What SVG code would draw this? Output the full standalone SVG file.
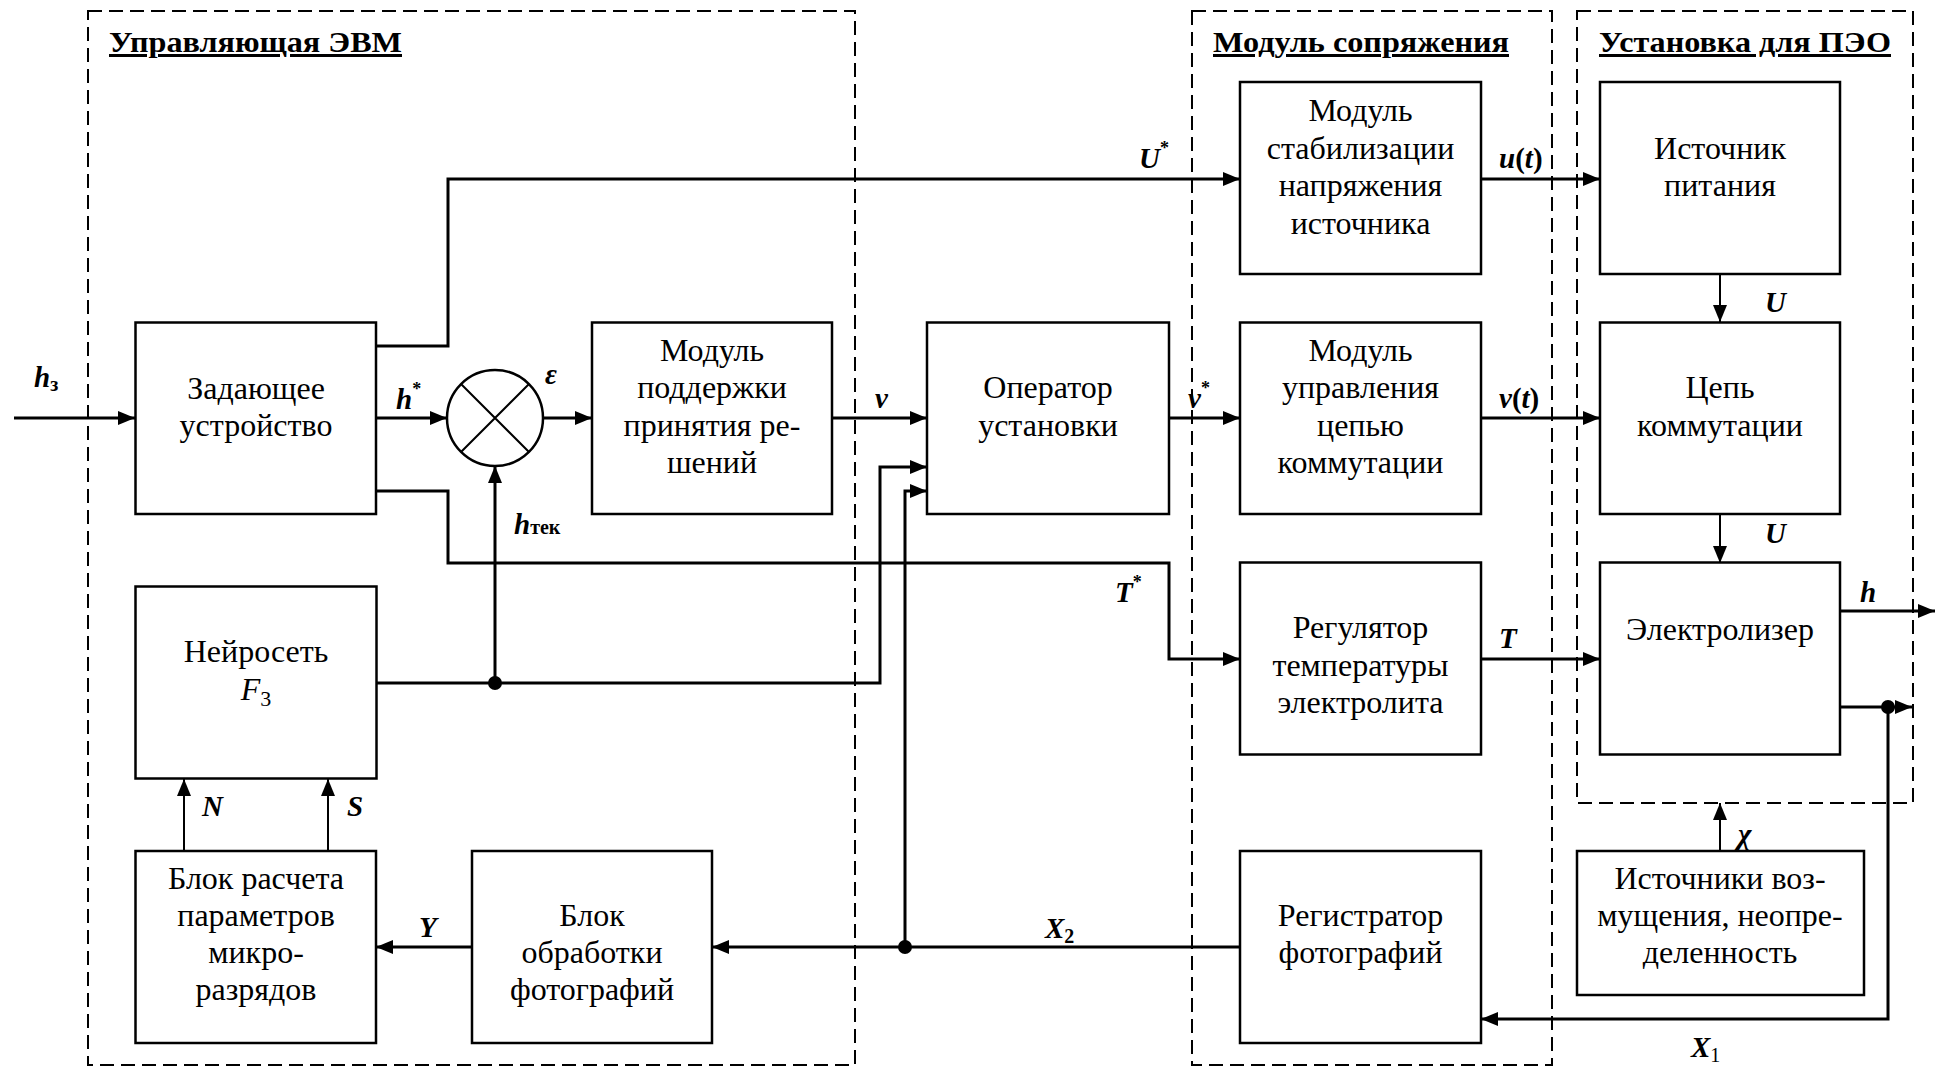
<svg xmlns="http://www.w3.org/2000/svg" width="1935" height="1068" viewBox="0 0 1935 1068">
<style>
.grp{fill:none;stroke:#000;stroke-width:2;stroke-dasharray:14 7}
.box{fill:#fff;stroke:#000;stroke-width:2.5}
.w{fill:none;stroke:#000;stroke-width:3}
.tw{fill:none;stroke:#000;stroke-width:2}
.t{font-family:"Liberation Serif","Times New Roman",serif;font-size:32px;text-anchor:middle;fill:#000}
.l{font-family:"Liberation Serif","Times New Roman",serif;font-size:29px;font-weight:bold;font-style:italic;fill:#000}
.ttl{font-family:"Liberation Serif","Times New Roman",serif;font-size:30px;font-weight:bold;text-decoration:underline;fill:#000}
.sub{font-style:normal;font-size:20px}
.dot{fill:#000}
</style>
<defs>
<marker id="a" markerUnits="userSpaceOnUse" markerWidth="18" markerHeight="14" refX="17" refY="7" orient="auto">
<path d="M0,0 L17,7 L0,14 z" fill="#000"/>
</marker>
</defs>
<rect width="1935" height="1068" fill="#fff"/>

<g id="group-evm">
<rect class="grp" x="88" y="11" width="767" height="1054"/>
<text class="ttl" x="109" y="52" textLength="293" lengthAdjust="spacingAndGlyphs">Управляющая ЭВМ</text>
</g>
<g id="group-interface">
<rect class="grp" x="1192" y="11" width="360" height="1054"/>
<text class="ttl" x="1213" y="52" textLength="296" lengthAdjust="spacingAndGlyphs">Модуль сопряжения</text>
</g>
<g id="group-peo">
<rect class="grp" x="1577" y="11" width="336" height="792"/>
<text class="ttl" x="1599" y="52" textLength="292" lengthAdjust="spacingAndGlyphs">Установка для ПЭО</text>
</g>

<g id="connectors">
<path class="w" d="M14,418 H135" marker-end="url(#a)"/>
<path class="w" d="M376,418 H447" marker-end="url(#a)"/>
<path class="w" d="M543,418 H592" marker-end="url(#a)"/>
<path class="w" d="M832,418 H927" marker-end="url(#a)"/>
<path class="w" d="M1169,418 H1240" marker-end="url(#a)"/>
<path class="w" d="M1481,418 H1600" marker-end="url(#a)"/>
<path class="w" d="M376,346 H448 V179 H1240" marker-end="url(#a)"/>
<path class="w" d="M1481,179 H1600" marker-end="url(#a)"/>
<path class="tw" d="M1720,274 V322" marker-end="url(#a)"/>
<path class="tw" d="M1720,514 V563" marker-end="url(#a)"/>
<path class="w" d="M376,491 H448 V563 H1169 V659 H1240" marker-end="url(#a)"/>
<path class="w" d="M1481,659 H1600" marker-end="url(#a)"/>
<path class="w" d="M377,683 H880 V467 H927" marker-end="url(#a)"/>
<path class="w" d="M495,683 V466" marker-end="url(#a)"/>
<circle class="dot" cx="495" cy="683" r="7"/>
<path class="w" d="M1240,947 H712" marker-end="url(#a)"/>
<path class="w" d="M905,947 V491 H927" marker-end="url(#a)"/>
<circle class="dot" cx="905" cy="947" r="7"/>
<path class="w" d="M472,947 H376" marker-end="url(#a)"/>
<path class="tw" d="M184,851 V779" marker-end="url(#a)"/>
<path class="tw" d="M328,851 V779" marker-end="url(#a)"/>
<path class="w" d="M1840,611 H1935" marker-end="url(#a)"/>
<path class="w" d="M1840,707 H1912" marker-end="url(#a)"/>
<path class="w" d="M1888,707 V1019 H1481" marker-end="url(#a)"/>
<circle class="dot" cx="1888" cy="707" r="7"/>
<path class="tw" d="M1720,851 V803" marker-end="url(#a)"/>

<text class="l" x="34" y="387">h<tspan class="sub" dy="4">з</tspan></text>
<text class="l" x="396" y="409">h<tspan font-size="18" font-style="normal" dy="-14">*</tspan></text>
<text class="l" x="545" y="384">ε</text>
<text class="l" x="514" y="534">h<tspan class="sub" dy="0">тек</tspan></text>
<text class="l" x="875" y="408">v</text>
<text class="l" x="1139" y="168">U<tspan font-size="18" font-style="normal" dy="-14">*</tspan></text>
<text class="l" x="1499" y="168">u<tspan font-style="normal">(</tspan>t<tspan font-style="normal">)</tspan></text>
<text class="l" x="1188" y="408">v<tspan font-size="18" font-style="normal" dy="-14">*</tspan></text>
<text class="l" x="1499" y="408">v<tspan font-style="normal">(</tspan>t<tspan font-style="normal">)</tspan></text>
<text class="l" x="1765" y="312">U</text>
<text class="l" x="1765" y="543">U</text>
<text class="l" x="1115" y="602">T<tspan font-size="18" font-style="normal" dy="-14">*</tspan></text>
<text class="l" x="1499" y="648">T</text>
<text class="l" x="1860" y="602">h</text>
<text class="l" x="202" y="816">N</text>
<text class="l" x="347" y="816">S</text>
<text class="l" x="419" y="937">Y</text>
<text class="l" x="1045" y="938">X<tspan class="sub" dy="5">2</tspan></text>
<text class="l" x="1738" y="844">χ</text>
<text class="l" x="1691" y="1057">X<tspan class="sub" font-weight="normal" dy="5">1</tspan></text>
</g>

<g id="node-zadayushchee">
<rect class="box" x="135.5" y="322.5" width="240.5" height="191.5"/>
<text class="t" x="256" y="399">Задающее</text>
<text class="t" x="256" y="436">устройство</text>
</g>
<g id="node-comparator">
<circle cx="495" cy="418" r="48" fill="#fff" stroke="#000" stroke-width="2.5"/>
<path d="M461,384 L529,452 M529,384 L461,452" stroke="#000" stroke-width="2" fill="none"/>
</g>
<g id="node-support">
<rect class="box" x="592" y="322.5" width="240" height="191.5"/>
<text class="t" x="712" y="361">Модуль</text>
<text class="t" x="712" y="398">поддержки</text>
<text class="t" x="712" y="436">принятия ре-</text>
<text class="t" x="712" y="473">шений</text>
</g>
<g id="node-operator">
<rect class="box" x="927" y="322.5" width="242" height="191.5"/>
<text class="t" x="1048" y="398">Оператор</text>
<text class="t" x="1048" y="436">установки</text>
</g>
<g id="node-stab">
<rect class="box" x="1240" y="82" width="241" height="192"/>
<text class="t" x="1360.5" y="121">Модуль</text>
<text class="t" x="1360.5" y="159">стабилизации</text>
<text class="t" x="1360.5" y="196">напряжения</text>
<text class="t" x="1360.5" y="234">источника</text>
</g>
<g id="node-control">
<rect class="box" x="1240" y="322.5" width="241" height="191.5"/>
<text class="t" x="1360.5" y="361">Модуль</text>
<text class="t" x="1360.5" y="398">управления</text>
<text class="t" x="1360.5" y="436">цепью</text>
<text class="t" x="1360.5" y="473">коммутации</text>
</g>
<g id="node-regulator">
<rect class="box" x="1240" y="562.5" width="241" height="192"/>
<text class="t" x="1360.5" y="638">Регулятор</text>
<text class="t" x="1360.5" y="676">температуры</text>
<text class="t" x="1360.5" y="713">электролита</text>
</g>
<g id="node-registrator">
<rect class="box" x="1240" y="851" width="241" height="192"/>
<text class="t" x="1360.5" y="926">Регистратор</text>
<text class="t" x="1360.5" y="963">фотографий</text>
</g>
<g id="node-source">
<rect class="box" x="1600" y="82" width="240" height="192"/>
<text class="t" x="1720" y="159">Источник</text>
<text class="t" x="1720" y="196">питания</text>
</g>
<g id="node-circuit">
<rect class="box" x="1600" y="322.5" width="240" height="191.5"/>
<text class="t" x="1720" y="398">Цепь</text>
<text class="t" x="1720" y="436">коммутации</text>
</g>
<g id="node-electrolyzer">
<rect class="box" x="1600" y="562.5" width="240" height="192"/>
<text class="t" x="1720" y="640">Электролизер</text>
</g>
<g id="node-disturbance">
<rect class="box" x="1577" y="851" width="287" height="144"/>
<text class="t" x="1720" y="889">Источники воз-</text>
<text class="t" x="1720" y="926">мущения, неопре-</text>
<text class="t" x="1720" y="963">деленность</text>
</g>
<g id="node-neuro">
<rect class="box" x="135.5" y="586.5" width="241" height="192"/>
<text class="t" x="256" y="662">Нейросеть</text>
<text class="t" x="256" y="700" font-style="italic">F<tspan font-style="normal" font-size="22" dy="6">3</tspan></text>
</g>
<g id="node-calc">
<rect class="box" x="135.5" y="851" width="240.5" height="192"/>
<text class="t" x="256" y="889">Блок расчета</text>
<text class="t" x="256" y="926">параметров</text>
<text class="t" x="256" y="963">микро-</text>
<text class="t" x="256" y="1000">разрядов</text>
</g>
<g id="node-photo">
<rect class="box" x="472" y="851" width="240" height="192"/>
<text class="t" x="592" y="926">Блок</text>
<text class="t" x="592" y="963">обработки</text>
<text class="t" x="592" y="1000">фотографий</text>
</g>
</svg>
